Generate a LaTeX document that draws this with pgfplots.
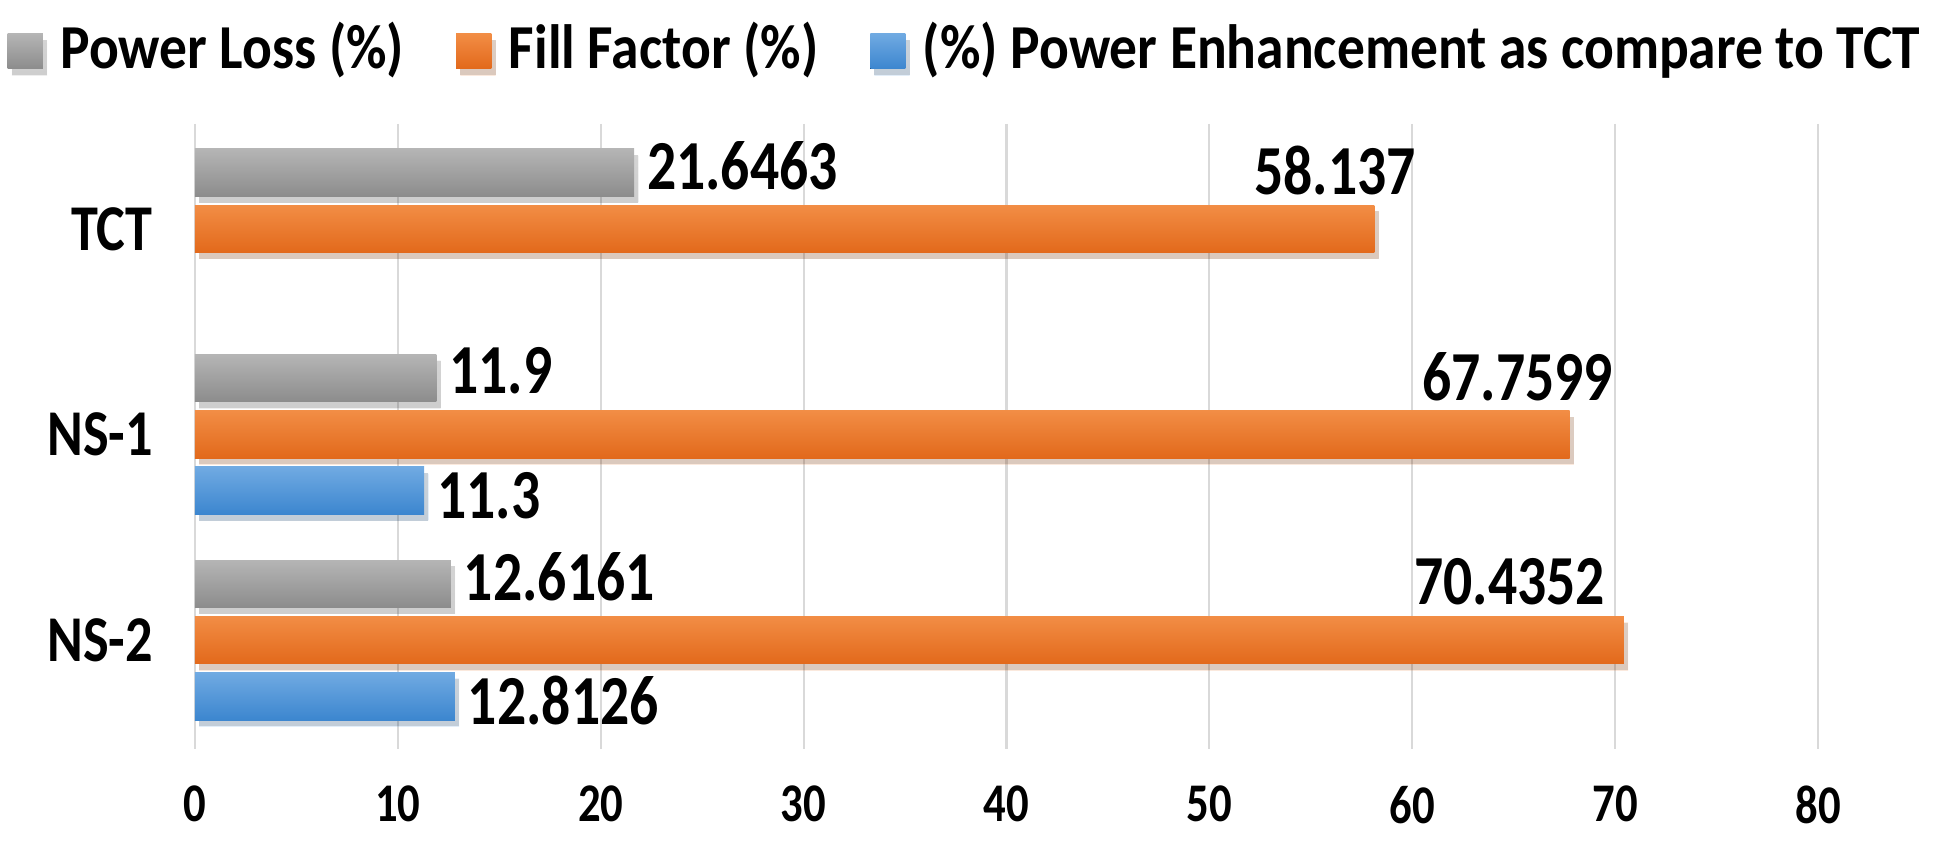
\documentclass[border=0pt]{standalone}
\usepackage{fontspec}
\setmainfont{Carlito}[FakeStretch=0.887]
\newfontfamily\numfont{Carlito}[FakeStretch=0.82]
\newfontfamily\catfont{Carlito}[FakeStretch=0.83]
\usepackage{pgfplots}
\pgfplotsset{compat=1.18}

\definecolor{lossTop}{HTML}{B5B5B5}
\definecolor{lossBot}{HTML}{8C8C8C}
\definecolor{ffTop}{HTML}{F28D45}
\definecolor{ffBot}{HTML}{E2691B}
\definecolor{peTop}{HTML}{70AAE2}
\definecolor{peBot}{HTML}{3C86CF}
\definecolor{gridgray}{HTML}{D9D9D9}

\pgfplotsset{
    barshadow/.style={preaction={fill=black, opacity=0.15, transform canvas={shift={(1.2pt,-1.8pt)}}}},
    lossbar/.style={
            bar shift=16pt, draw=none, barshadow,
            top color=lossTop, bottom color=lossBot,
            nodes near coords, point meta=explicit symbolic,
            every node near coord/.append style={yshift=2pt},
        },
    ffbar/.style={
            bar shift=0pt, draw=none, barshadow,
            top color=ffTop, bottom color=ffBot,
        },
    pebar/.style={
            bar shift=-16pt, draw=none, barshadow,
            top color=peTop, bottom color=peBot,
            nodes near coords, point meta=explicit symbolic,
            every node near coord/.append style={yshift=-1.3pt},
        },
}

\begin{document}
\begin{tikzpicture}
    \useasboundingbox (-1.95,-1.03) rectangle (17.46,7.49);
    \begin{axis}[
            at={(0,0)}, anchor=south west,
            scale only axis,
            width=16.23cm,
            height=6.25cm,
            xbar,
            y dir=reverse,
            xmin=0, xmax=80,
            ymin=-0.51, ymax=2.53,
            xtick={0,10,...,80},
            ytick={0,1,2},
            yticklabels={TCT,NS-1,NS-2},
            xmajorgrids=true,
            major grid style={line width=0.6pt, gridgray},
            axis line style={draw=none},
            major tick length=0pt,
            /pgf/number format/assume math mode=true,
            xticklabel style={font=\numfont\bfseries\fontsize{15.5}{16}\selectfont, yshift=-7pt},
            yticklabel style={font=\catfont\bfseries\fontsize{18.6}{20}\selectfont, xshift=-8.5pt},
            bar width=13.5pt,
            nodes near coords style={font=\numfont\bfseries\fontsize{20}{20}\selectfont, inner sep=0pt, anchor=west, xshift=3.5pt},
            legend style={
                    at={(0.476,1.122)},
                    anchor=center,
                    draw=none,
                    fill=none,
                    font=\bfseries\fontsize{17.8}{18}\selectfont,
                    legend columns=3,
                    column sep=0pt,
                    /tikz/every even column/.append style={column sep=12.8pt},
                },
            legend image code/.code={
                    \fill[preaction/.code={}, #1] (0pt,-6pt) rectangle (10pt,4pt);
                    \path (13pt,0pt);
                },
        ]

        % one plot per bar so every bar gets its own shading
        \addplot[lossbar] coordinates {(21.6463,0) [21.6463]};
        \addlegendentry{Power Loss (\%)}
        \addplot[ffbar] coordinates {(58.137,0)};
        \addlegendentry{Fill Factor (\%)}
        \addplot[pebar] coordinates {(11.3,1) [11.3]};
        \addlegendentry{(\%) Power Enhancement as compare to TCT}

        \addplot[lossbar, forget plot] coordinates {(11.9,1) [11.9]};
        \addplot[lossbar, forget plot] coordinates {(12.6161,2) [12.6161]};
        \addplot[ffbar, forget plot] coordinates {(67.7599,1)};
        \addplot[ffbar, forget plot] coordinates {(70.4352,2)};
        \addplot[pebar, forget plot] coordinates {(12.8126,2) [12.8126]};

        % fill factor labels sit above the bar ends
        \begin{scope}[every node/.style={font=\numfont\bfseries\fontsize{20}{20}\selectfont, inner sep=0pt, yshift=16.5pt}]
            \node at (axis cs:56.2,0) {58.137};
            \node at (axis cs:65.2,1) {67.7599};
            \node at (axis cs:64.8,2) {70.4352};
        \end{scope}
    \end{axis}
\end{tikzpicture}
\end{document}
